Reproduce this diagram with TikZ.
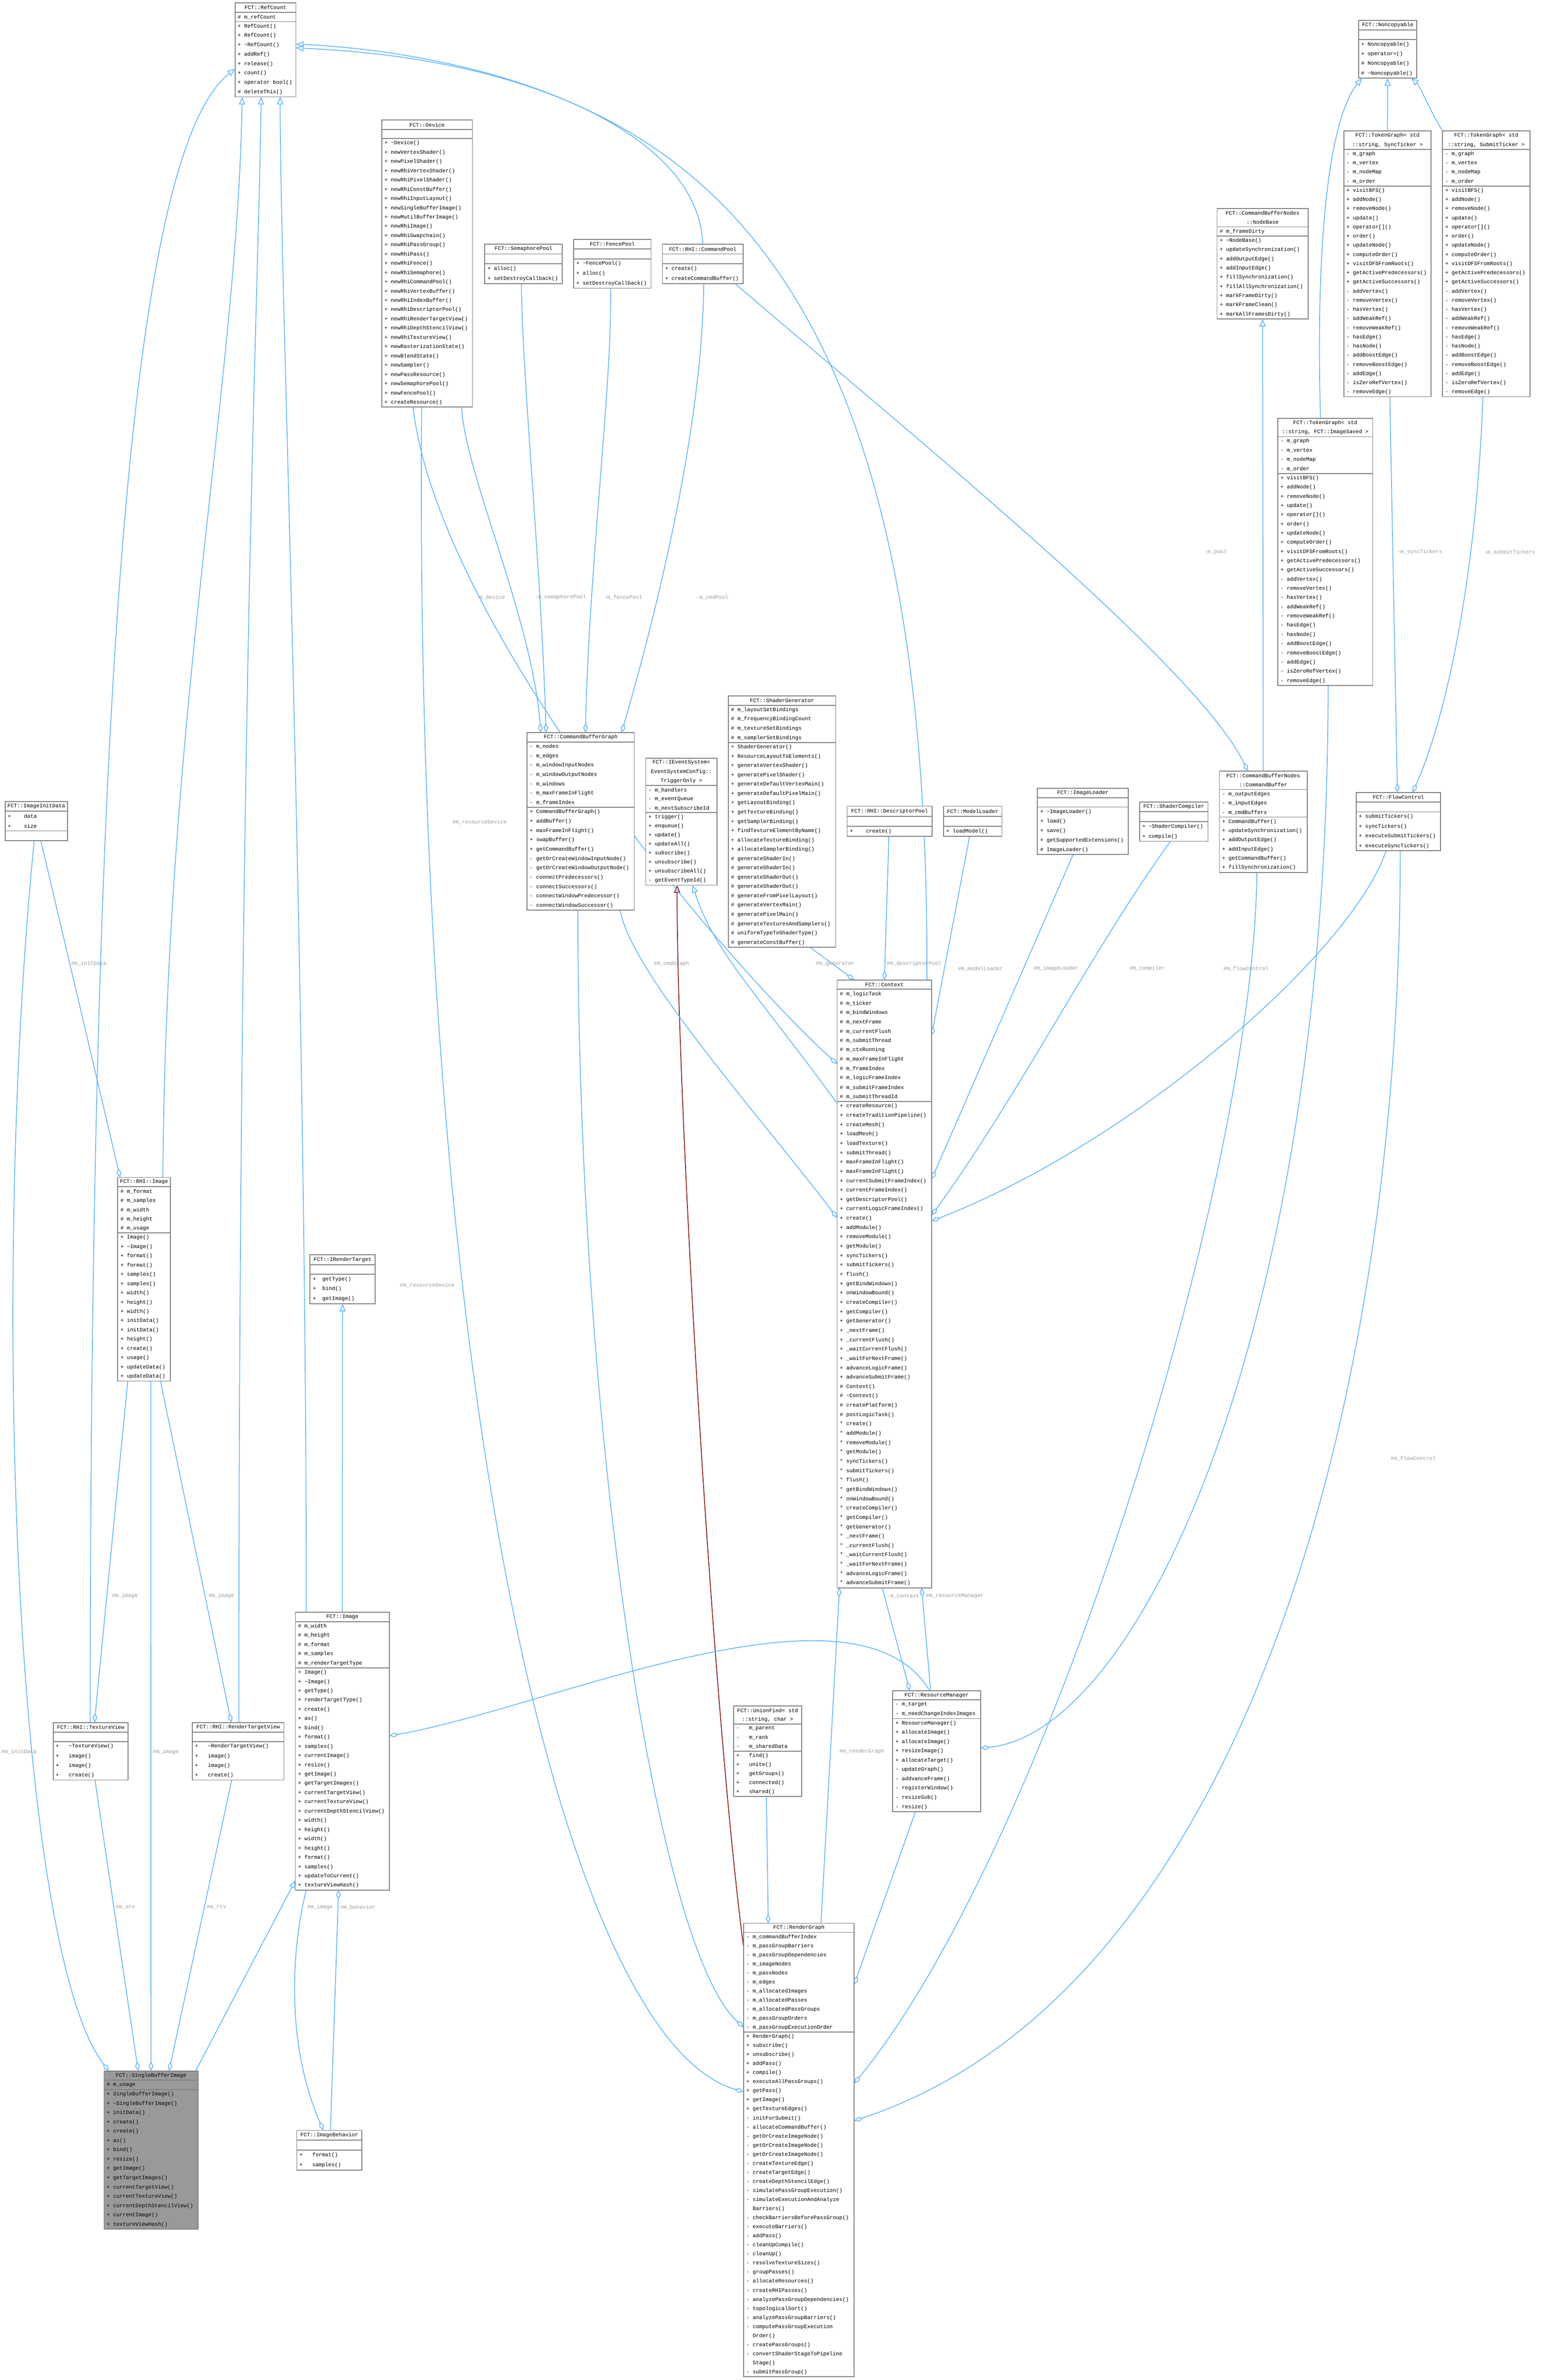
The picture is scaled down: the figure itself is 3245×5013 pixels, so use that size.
\documentclass[tikz,border=0pt]{standalone}
\usepackage{fontspec}
\newfontfamily\cf{Liberation Mono}
\usetikzlibrary{arrows.meta,calc}
\definecolor{eb}{HTML}{63B8FF}
\definecolor{er}{HTML}{8B1A1A}
\definecolor{lg}{HTML}{9A9A9A}
\definecolor{bdc}{HTML}{808080}
\definecolor{sbg}{HTML}{999999}
\pgfdeclarelayer{edges}\pgfdeclarelayer{boxbg}\pgfsetlayers{edges,boxbg,main}
\newcommand\tld{\textasciitilde}
\tikzset{
 txt/.style={font=\cf\fontsize{3.2}{3.6}\selectfont, inner sep=0pt},
 ttl/.style={txt},
 row/.style={txt,anchor=west},
 lbl/.style={txt,text=lg},
 bd/.style={draw=bdc,line width=0.5pt},
 inh/.style={draw=eb,line width=0.5pt,-{Triangle[open,length=0.16cm,width=0.13cm]}},
 inhr/.style={inh,draw=er},
 agg/.style={draw=eb,line width=0.5pt,{Diamond[open,length=0.2cm,width=0.1cm]}-},
}
\newcommand\cls[9]{%
 \xdef\cy{#3}%
 \foreach \tx in {#6}{\pgfmathsetmacro\my{\cy+#5/2}\node[ttl] at ({#2+#4/2},\my) {\tx};\pgfmathsetmacro\ny{\cy+#5}\xdef\cy{\ny}}%
 \xdef\ya{\cy}%
 \foreach \tx in {#7}{\pgfmathsetmacro\my{\cy+#5/2}\node[row] at ({#2+5},\my) {\tx};\pgfmathsetmacro\ny{\cy+#5}\xdef\cy{\ny}}%
 \xdef\yb{\cy}%
 \foreach \tx in {#8}{\pgfmathsetmacro\my{\cy+#5/2}\node[row] at ({#2+5},\my) {\tx};\pgfmathsetmacro\ny{\cy+#5}\xdef\cy{\ny}}%
 \draw[bd] (#2,\ya) -- ++(#4,0) (#2,\yb) -- ++(#4,0);
 \begin{pgfonlayer}{boxbg}\fill[#9] (#2,#3) rectangle ({#2+#4},\cy);\end{pgfonlayer}%
 \pgfmathsetmacro\hh{(\cy-#3)*0.01}%
 \node[bd,inner sep=0pt,outer sep=0pt,anchor=north west,minimum width={#4*0.01cm},minimum height={\hh cm}] (#1) at (#2,#3) {};%
}
\begin{document}
\begin{tikzpicture}[x=0.01cm,y=-0.01cm]
\begin{pgfonlayer}{edges}\fill[white] (0,0) rectangle (3245,5013);\end{pgfonlayer}
\useasboundingbox (0,0) rectangle (3245,5013);

\cls{refc}{495}{6}{128}{19.8}{FCT::RefCount}{\# m\_refCount}{+ RefCount(),+ RefCount(),+ \tld RefCount(),+ addRef(),+ release(),+ count(),+ operator bool(),\# deleteThis()}{white}
\cls{dev}{804}{253}{191}{19.5}{FCT::Device}{\relax}{+ \tld Device(),+ newVertexShader(),+ newPixelShader(),+ newRhiVertexShader(),+ newRhiPixelShader(),+ newRhiConstBuffer(),+ newRhiInputLayout(),+ newSingleBufferImage(),+ newMutilBufferImage(),+ newRhiImage(),+ newRhiSwapchain(),+ newRhiPassGroup(),+ newRhiPass(),+ newRhiFence(),+ newRhiSemaphore(),+ newRhiCommandPool(),+ newRhiVertexBuffer(),+ newRhiIndexBuffer(),+ newRhiDescriptorPool(),+ newRhiRenderTargetView(),+ newRhiDepthStencilView(),+ newRhiTextureView(),+ newRasterizationState(),+ newBlendState(),+ newSampler(),+ newPassResource(),+ newSemaphorePool(),+ newFencePool(),+ createResource()}{white}
\cls{spool}{1021}{514}{163}{20.8}{FCT::SemaphorePool}{\relax}{+ alloc(),+ setDestroyCallback()}{white}
\cls{fpool}{1208}{504}{163}{20.6}{FCT::FencePool}{\relax}{+ \tld FencePool(),+ alloc(),+ setDestroyCallback()}{white}
\cls{cpool}{1395}{514}{170}{20.8}{FCT::RHI::CommandPool}{\relax}{+ create(),+ createCommandBuffer()}{white}
\cls{nonc}{2861}{43}{123}{20.3}{FCT::Noncopyable}{\relax}{+ Noncopyable(),+ operator=(),\# Noncopyable(),\# \tld Noncopyable()}{white}
\cls{nbase}{2563}{439}{192}{19.4}{FCT::CommandBufferNodes,::NodeBase}{\# m\_frameDirty}{+ \tld NodeBase(),+ updateSynchronization(),+ addOutputEdge(),+ addInputEdge(),+ fillSynchronization(),+ fillAllSynchronization(),+ markFrameDirty(),+ markFrameClean(),+ markAllFramesDirty()}{white}
\cls{tgsync}{2830}{276}{184}{19.3}{{FCT::TokenGraph< std},{::string, SyncTicker >}}{- m\_graph,- m\_vertex,- m\_nodeMap,- m\_order}{+ visitBFS(),+ addNode(),+ removeNode(),+ update(),{+ operator[]()},+ order(),+ updateNode(),+ computeOrder(),+ visitDFSFromRoots(),+ getActivePredecessors(),+ getActiveSuccessors(),- addVertex(),- removeVertex(),- hasVertex(),- addWeakRef(),- removeWeakRef(),- hasEdge(),- hasNode(),- addBoostEdge(),- removeBoostEdge(),- addEdge(),- isZeroRefVertex(),- removeEdge()}{white}
\cls{tgsub}{3038}{276}{184}{19.3}{{FCT::TokenGraph< std},{::string, SubmitTicker >}}{- m\_graph,- m\_vertex,- m\_nodeMap,- m\_order}{+ visitBFS(),+ addNode(),+ removeNode(),+ update(),{+ operator[]()},+ order(),+ updateNode(),+ computeOrder(),+ visitDFSFromRoots(),+ getActivePredecessors(),+ getActiveSuccessors(),- addVertex(),- removeVertex(),- hasVertex(),- addWeakRef(),- removeWeakRef(),- hasEdge(),- hasNode(),- addBoostEdge(),- removeBoostEdge(),- addEdge(),- isZeroRefVertex(),- removeEdge()}{white}
\cls{tgimg}{2691}{881}{200}{19.4}{{FCT::TokenGraph< std},{::string, FCT::ImageSaved >}}{- m\_graph,- m\_vertex,- m\_nodeMap,- m\_order}{+ visitBFS(),+ addNode(),+ removeNode(),+ update(),{+ operator[]()},+ order(),+ updateNode(),+ computeOrder(),+ visitDFSFromRoots(),+ getActivePredecessors(),+ getActiveSuccessors(),- addVertex(),- removeVertex(),- hasVertex(),- addWeakRef(),- removeWeakRef(),- hasEdge(),- hasNode(),- addBoostEdge(),- removeBoostEdge(),- addEdge(),- isZeroRefVertex(),- removeEdge()}{white}
\cls{sg}{1534}{1466}{226}{19.6}{FCT::ShaderGenerator}{\# m\_layoutSetBindings,\# m\_frequencyBindingCount,\# m\_textureSetBindings,\# m\_samplerSetBindings}{+ ShaderGenerator(),+ ResourceLayoutToElements(),+ generateVertexShader(),+ generatePixelShader(),+ generateDefaultVertexMain(),+ generateDefaultPixelMain(),+ getLayoutBinding(),+ getTextureBinding(),+ getSamplerBinding(),+ findTextureElementByName(),+ allocateTextureBinding(),+ allocateSamplerBinding(),\# generateShaderIn(),\# generateShaderIn(),\# generateShaderOut(),\# generateShaderOut(),\# generateFromPixelLayout(),\# generateVertexMain(),\# generatePixelMain(),\# generateTexturesAndSamplers(),\# uniformTypeToShaderType(),\# generateConstBuffer()}{white}
\cls{cbg}{1110}{1543}{226}{19.7}{FCT::CommandBufferGraph}{- m\_nodes,- m\_edges,- m\_windowInputNodes,- m\_windowOutputNodes,- m\_windows,- m\_maxFrameInFlight,- m\_frameIndex}{+ CommandBufferGraph(),+ addBuffer(),+ maxFrameInFlight(),+ swapBuffer(),+ getCommandBuffer(),- getOrCreateWindowInputNode(),- getOrCreateWindowOutputNode(),- connectPredecessors(),- connectSuccessors(),- connectWindowPredecessor(),- connectWindowSuccessor()}{white}
\cls{ies}{1360}{1597}{150}{19.1}{FCT::IEventSystem<,EventSystemConfig::,TriggerOnly >}{- m\_handlers,- m\_eventQueue,- m\_nextSubscribeId}{+ trigger(),+ enqueue(),+ update(),+ updateAll(),+ subscribe(),+ unsubscribe(),+ unsubscribeAll(),- getEventTypeId()}{white}
\cls{iid}{11}{1688}{131}{20.7}{FCT::ImageInitData}{+ \ \ \ data,+ \ \ \ size}{\relax}{white}
\cls{dpool}{1784}{1698}{179}{21.3}{FCT::RHI::DescriptorPool}{\relax}{+ \ \ \ create()}{white}
\cls{mload}{1987}{1698}{123}{21.3}{FCT::ModelLoader}{\relax}{+ loadModel()}{white}
\cls{iload}{2185}{1660}{191}{20}{FCT::ImageLoader}{\relax}{+ \tld ImageLoader(),+ load(),+ save(),+ getSupportedExtensions(),\# ImageLoader()}{white}
\cls{scomp}{2400}{1689}{144}{20.8}{FCT::ShaderCompiler}{\relax}{+ \tld ShaderCompiler(),+ compile()}{white}
\cls{cbuf}{2568}{1624}{185}{19.4}{FCT::CommandBufferNodes,::CommandBuffer}{- m\_outputEdges,- m\_inputEdges,- m\_cmdBuffers}{+ CommandBuffer(),+ updateSynchronization(),+ addOutputEdge(),+ addInputEdge(),+ getCommandBuffer(),+ fillSynchronization()}{white}
\cls{fc}{2856}{1669}{178}{20.5}{FCT::FlowControl}{\relax}{+ submitTickers(),+ syncTickers(),+ executeSubmitTickers(),+ executeSyncTickers()}{white}
\cls{ctx}{1763}{2064}{199}{19.7}{FCT::Context}{\# m\_logicTask,\# m\_ticker,\# m\_bindWindows,\# m\_nextFrame,\# m\_currentFlush,\# m\_submitThread,\# m\_ctxRunning,\# m\_maxFrameInFlight,\# m\_frameIndex,\# m\_logicFrameIndex,\# m\_submitFrameIndex,\# m\_submitThreadId}{+ createResource(),+ createTraditionPipeline(),+ createMesh(),+ loadMesh(),+ loadTexture(),+ submitThread(),+ maxFrameInFlight(),+ maxFrameInFlight(),+ currentSubmitFrameIndex(),+ currentFrameIndex(),+ getDescriptorPool(),+ currentLogicFrameIndex(),+ create(),+ addModule(),+ removeModule(),+ getModule(),+ syncTickers(),+ submitTickers(),+ flush(),+ getBindWindows(),+ onWindowBound(),+ createCompiler(),+ getCompiler(),+ getGenerator(),+ \_nextFrame(),+ \_currentFlush(),+ \_waitCurrentFlush(),+ \_waitForNextFrame(),+ advanceLogicFrame(),+ advanceSubmitFrame(),\# Context(),\# \tld Context(),\# createPlatform(),\# postLogicTask(),* create(),* addModule(),* removeModule(),* getModule(),* syncTickers(),* submitTickers(),* flush(),* getBindWindows(),* onWindowBound(),* createCompiler(),* getCompiler(),* getGenerator(),* \_nextFrame(),* \_currentFlush(),* \_waitCurrentFlush(),* \_waitForNextFrame(),* advanceLogicFrame(),* advanceSubmitFrame()}{white}
\cls{rimg}{248}{2480}{111}{19.5}{FCT::RHI::Image}{\# m\_format,\# m\_samples,\# m\_width,\# m\_height,\# m\_usage}{+ Image(),+ \tld Image(),+ format(),+ format(),+ samples(),+ samples(),+ width(),+ height(),+ width(),+ initData(),+ initData(),+ height(),+ create(),+ usage(),+ updateData(),+ updateData()}{white}
\cls{irt}{653}{2643}{137}{20.6}{FCT::IRenderTarget}{\relax}{+ \ getType(),+ \ bind(),+ \ getImage()}{white}
\cls{img}{622}{3396}{198}{19.5}{FCT::Image}{\# m\_width,\# m\_height,\# m\_format,\# m\_samples,\# m\_renderTargetType}{+ Image(),+ \tld Image(),+ getType(),+ renderTargetType(),+ create(),+ as(),+ bind(),+ format(),+ samples(),+ currentImage(),+ resize(),+ getImage(),+ getTargetImages(),+ currentTargetView(),+ currentTextureView(),+ currentDepthStencilView(),+ width(),+ height(),+ width(),+ height(),+ format(),+ samples(),+ updateToCurrent(),+ textureViewHash()}{white}
\cls{tview}{112}{3628}{158}{20.2}{FCT::RHI::TextureView}{\relax}{+ \ \ \tld TextureView(),+ \ \ image(),+ \ \ image(),+ \ \ create()}{white}
\cls{rtview}{405}{3628}{193}{20.2}{FCT::RHI::RenderTargetView}{\relax}{+ \ \ \tld RenderTargetView(),+ \ \ image(),+ \ \ image(),+ \ \ create()}{white}
\cls{rm}{1880}{3561}{185}{19.6}{FCT::ResourceManager}{- m\_target,- m\_needChangeIndexImages}{+ ResourceManager(),+ allocateImage(),+ allocateImage(),+ resizeImage(),+ allocateTarget(),- updateGraph(),- addvanceFrame(),- registerWindow(),- resizeSub(),- resize()}{white}
\cls{uf}{1545}{3593}{143}{19.1}{FCT::UnionFind< std,{::string, char >}}{- \ \ m\_parent,- \ \ m\_rank,- \ \ m\_sharedData}{+ \ \ find(),+ \ \ unite(),+ \ \ getGroups(),+ \ \ connected(),+ \ \ shared()}{white}
\cls{rg}{1566}{4051}{233}{19.1}{FCT::RenderGraph}{- m\_commandBufferIndex,- m\_passGroupBarriers,- m\_passGroupDependencies,- m\_imageNodes,- m\_passNodes,- m\_edges,- m\_allocatedImages,- m\_allocatedPasses,- m\_allocatedPassGroups,- m\_passGroupOrders,- m\_passGroupExecutionOrder}{+ RenderGraph(),+ subscribe(),+ unsubscribe(),+ addPass(),+ compile(),+ executeAllPassGroups(),+ getPass(),+ getImage(),+ getTextureEdges(),- initForSubmit(),- allocateCommandBuffer(),- getOrCreateImageNode(),- getOrCreateImageNode(),- getOrCreateImageNode(),- createTextureEdge(),- createTargetEdge(),- createDepthStencilEdge(),- simulatePassGroupExecution(),- simulateExecutionAndAnalyze,\ \ Barriers(),- checkBarriersBeforePassGroup(),- executeBarriers(),- addPass(),- cleanUpCompile(),- cleanUp(),- resolveTextureSizes(),- groupPasses(),- allocateResources(),- createRHIPasses(),- analyzePassGroupDependencies(),- topologicalSort(),- analyzePassGroupBarriers(),- computePassGroupExecution,\ \ Order(),- createPassGroups(),- convertShaderStageToPipeline,\ \ Stage(),- submitPassGroup()}{white}
\cls{sbi}{219}{4362}{198}{19.6}{FCT::SingleBufferImage}{\# m\_usage}{+ SingleBufferImage(),+ \tld SingleBufferImage(),+ initData(),+ create(),+ create(),+ as(),+ bind(),+ resize(),+ getImage(),+ getTargetImages(),+ currentTargetView(),+ currentTextureView(),+ currentDepthStencilView(),+ currentImage(),+ textureViewHash()}{sbg}
\cls{ibeh}{625}{4487}{137}{21}{FCT::ImageBehavior}{\relax}{+ \ \ format(),+ \ \ samples()}{white}

\begin{pgfonlayer}{edges}
% inheritance
\draw[inh] ($(tview.north west)+(78,0)$) .. controls (190,1200) and (300,300) .. ($(refc.west)+(0,40)$);
\draw[inh] ($(rimg.north west)+(95,0)$) .. controls (350,1500) and (500,800) .. ($(refc.south west)+(15,0)$);
\draw[inh] ($(rtview.north west)+(98,0)$) .. controls (503,1500) and (545,600) .. ($(refc.south west)+(55,0)$);
\draw[inh] ($(img.north west)+(23,0)$) .. controls (645,2000) and (590,600) .. ($(refc.south west)+(95,0)$);
\draw[inh] (img.north) -- (irt.south);
\draw[inh] ($(cpool.north west)+(85,0)$) .. controls (1470,250) and (1000,110) .. ($(refc.east)+(0,-12)$);
\draw[inh] ($(ctx.north east)+(-10,0)$) .. controls (1960,600) and (1500,140) .. ($(refc.east)+(0,-4)$);
\draw[inh] (tgsync.north) -- (nonc.south);
\draw[inh] (tgsub.north west) .. controls (3010,230) and (2990,180) .. ($(nonc.south east)+(-12,0)$);
\draw[inh] ($(tgimg.north west)+(90,0)$) .. controls (2770,500) and (2800,250) .. ($(nonc.south west)+(7,0)$);
\draw[inh] (cbuf.north) -- (nbase.south);
\draw[inhr] ($(rg.north west)+(0,50)$) .. controls (1500,3600) and (1425,2300) .. ($(ies.south west)+(66,0)$);
\draw[inh] ($(ctx.north west)+(0,260)$) .. controls (1600,2100) and (1500,2000) .. ($(ies.south west)+(99,0)$);
\draw[inh] ($(sbi.north east)+(-5,0)$) -- ($(img.south west)+(0,-20)$);
% aggregation
\draw[agg] ($(rimg.north west)+(5,0)$) -- ($(iid.south west)+(75,0)$);
\draw[agg] ($(sbi.north west)+(10,0)$) .. controls (30,4100) and (-20,2700) .. ($(iid.south west)+(61,0)$);
\draw[agg] ($(tview.north west)+(87,0)$) -- ($(rimg.south west)+(21,0)$);
\draw[agg] (sbi.north) -- ($(rimg.south)+(14,0)$);
\draw[agg] ($(rtview.north west)+(82,0)$) -- ($(rimg.south east)+(-21,0)$);
\draw[agg] ($(sbi.north west)+(72,0)$) -- ($(tview.south west)+(88,0)$);
\draw[agg] ($(sbi.north west)+(137,0)$) -- ($(rtview.south west)+(83,0)$);
\draw[agg] ($(img.south west)+(91,0)$) -- ($(ibeh.north west)+(71,0)$);
\draw[agg] ($(ibeh.north west)+(56,0)$) .. controls (600,4300) and (615,4100) .. ($(img.south west)+(23,0)$);
\draw[agg] ($(img.north east)+(0,260)$) .. controls (1150,3600) and (1800,3300) .. ($(rm.north west)+(78,0)$);
\draw[agg] ($(cbg.north west)+(29,0)$) .. controls (1120,1300) and (980,1000) .. ($(dev.south west)+(168,0)$);
\draw[agg] ($(cbg.north west)+(40,0)$) .. controls (1140,1200) and (1100,800) .. ($(spool.south west)+(77,0)$);
\draw[agg] ($(cbg.north west)+(123,0)$) .. controls (1240,1200) and (1290,800) .. ($(fpool.south west)+(78,0)$);
\draw[agg] ($(cbg.north west)+(199,0)$) .. controls (1380,1300) and (1480,900) .. ($(cpool.south west)+(87,0)$);
\draw[agg] ($(cbuf.north west)+(60,0)$) .. controls (2520,1400) and (1900,900) .. ($(cpool.south west)+(153,0)$);
\draw[agg] ($(fc.north west)+(87,0)$) -- ($(tgsync.south west)+(97,0)$);
\draw[agg] ($(fc.north west)+(119,0)$) .. controls (3050,1500) and (3110,1200) .. ($(tgsub.south west)+(85,0)$);
\draw[agg] ($(ctx.north west)+(0,177)$) .. controls (1500,2000) and (920,1300) .. ($(dev.south west)+(66,0)$);
\draw[agg] ($(ctx.north west)+(0,501)$) .. controls (1600,2350) and (1330,2050) .. ($(cbg.south west)+(196,0)$);
\draw[agg] ($(ctx.north west)+(36,0)$) -- ($(sg.south west)+(172,0)$);
\draw[agg] (ctx.north) -- ($(dpool.south west)+(88,0)$);
\draw[agg] ($(ctx.north east)+(0,117)$) -- ($(mload.south west)+(55,0)$);
\draw[agg] ($(ctx.north east)+(0,420)$) -- ($(iload.south west)+(75,0)$);
\draw[agg] ($(ctx.north east)+(0,496)$) .. controls (2150,2300) and (2300,2000) .. ($(scomp.south west)+(65,0)$);
\draw[agg] ($(ctx.north east)+(0,508)$) .. controls (2400,2400) and (2850,2000) .. ($(fc.south west)+(63,0)$);
\draw[agg] ($(rm.north west)+(36,0)$) -- ($(ctx.south west)+(95,0)$);
\draw[agg] ($(ctx.south west)+(178,0)$) -- ($(rm.north west)+(80,0)$);
\draw[agg] ($(ctx.south west)+(5,0)$) -- ($(rg.north west)+(163,0)$);
\draw[agg] ($(rg.north west)+(52,0)$) -- ($(uf.south west)+(69,0)$);
\draw[agg] ($(rg.north west)+(0,219)$) .. controls (1380,4100) and (1217,3000) .. ($(cbg.south west)+(107,0)$);
\draw[agg] ($(rg.north west)+(0,355)$) .. controls (1200,4300) and (870,3000) .. ($(dev.south west)+(84,0)$);
\draw[agg] ($(rg.north east)+(0,129)$) -- ($(rm.south west)+(48,0)$);
\draw[agg] ($(rg.north east)+(0,337)$) .. controls (2200,3900) and (2640,2500) .. ($(cbuf.south west)+(79,0)$);
\draw[agg] ($(rg.north east)+(0,416)$) .. controls (2600,4200) and (2949,3000) .. ($(fc.south west)+(93,0)$);
\draw[agg] ($(rm.north east)+(0,121)$) .. controls (2400,3650) and (2797,2800) .. ($(tgimg.south west)+(106,0)$);
\end{pgfonlayer}
% labels
\node[lbl] (l1) at (187,2029) {\#m\_initData};
\node[lbl] (l2) at (40,3690) {\#m\_initData};
\node[lbl] (l3) at (263,3361) {\#m\_image};
\node[lbl] (l4) at (349,3690) {\#m\_image};
\node[lbl] (l5) at (466,3361) {\#m\_image};
\node[lbl] (l6) at (264,4017) {\#m\_srv};
\node[lbl] (l7) at (456,4017) {\#m\_rtv};
\node[lbl] (l8) at (674,4017) {\#m\_image};
\node[lbl] (l9) at (754,4017) {\#m\_behavior};
\node[lbl] (l10) at (1033,1258) {-m\_device};
\node[lbl] (l11) at (1180,1258) {-m\_semaphorePool};
\node[lbl] (l12) at (1312,1258) {-m\_fencePool};
\node[lbl] (l13) at (1500,1258) {-m\_cmdPool};
\node[lbl] (l14) at (2560,1163) {-m\_pool};
\node[lbl] (l15) at (2990,1163) {-m\_syncTickers};
\node[lbl] (l16) at (3179,1163) {-m\_submitTickers};
\node[lbl] (l17) at (1010,1732) {\#m\_resourceDevice};
\node[lbl] (l18) at (1414,2030) {\#m\_cmdGraph};
\node[lbl] (l19) at (1759,2030) {\#m\_generator};
\node[lbl] (l20) at (1925,2030) {\#m\_descriptorPool};
\node[lbl] (l21) at (2065,2040) {\#m\_modelLoader};
\node[lbl] (l22) at (2224,2040) {\#m\_imageLoader};
\node[lbl] (l23) at (2416,2040) {\#m\_compiler};
\node[lbl] (l24) at (2624,2040) {\#m\_flowControl};
\node[lbl] (l25) at (1902,3362) {-m\_context};
\node[lbl] (l26) at (2011,3362) {\#m\_resourceManager};
\node[lbl] (l27) at (1815,3689) {\#m\_renderGraph};
\node[lbl] (l28) at (900,2707) {\#m\_resourceDevice};
\node[lbl] (l29) at (2976,3072) {\#m\_flowControl};
\end{tikzpicture}
\end{document}
